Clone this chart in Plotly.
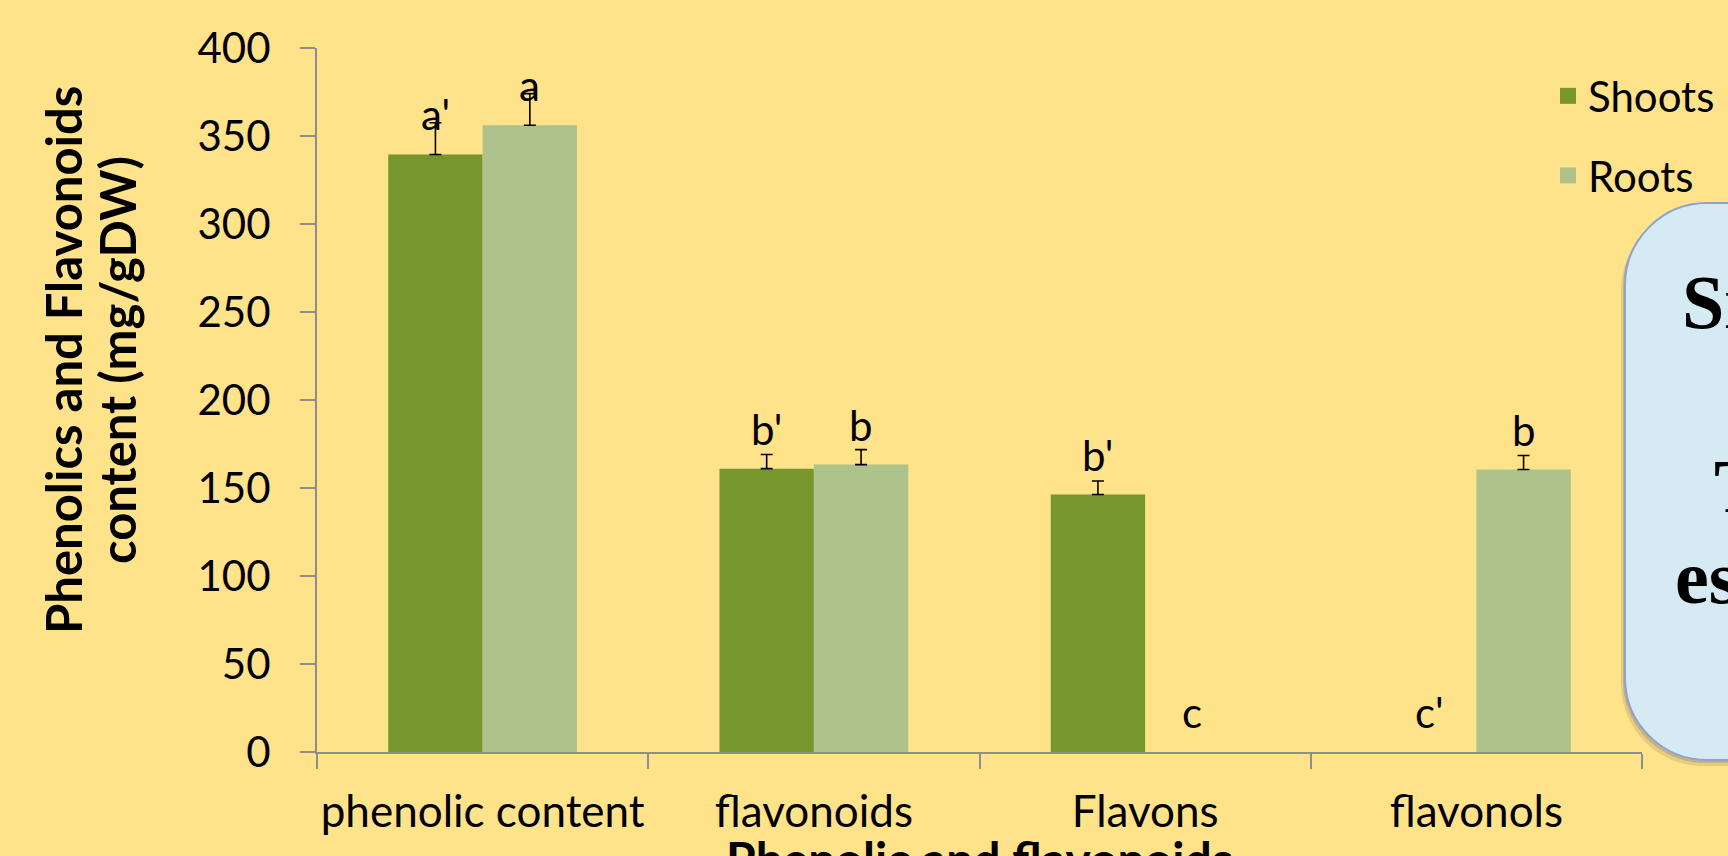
import plotly.graph_objects as go

# ---------------- data ----------------
categories = ["phenolic content", "flavonoids", "Flavons", "flavonols"]
series_names = ["Shoots", "Roots"]
shoots_values = [339.5, 161.0, 146.3, 0]
roots_values = [356.1, 163.3, 0, 160.5]
shoots_errors = [18, 8, 7.7, None]
roots_errors = [18, 8.5, None, 8]
shoots_letters = ["a'", "b'", "b'", "c'"]
roots_letters = ["a", "b", "c", "b"]
y_tick_values = [0, 50, 100, 150, 200, 250, 300, 350, 400]
y_title_lines = ["Phenolics and Flavonoids", "content (mg/gDW)"]
x_title = "Phenolic and flavonoids"
box_lines = ["Si", "T", "es"]

# ---------------- styles ----------------
W, H = 1728, 856
ML, MR, MT, MB = 317, 86, 48, 104
PW, PH = W - ML - MR, H - MT - MB
BG = "#FFE38B"
COLORS = ["#77962E", "#ADC38B"]
AXIS = "#8E8E8E"
FONT = "Lato"
BARGAP = 0.43


def px_x(x):
    return (x - ML) / PW


def px_y(y):
    return (H - MB - y) / PH


fig = go.Figure()
for name, vals, errs, col in [
    (series_names[0], shoots_values, shoots_errors, COLORS[0]),
    (series_names[1], roots_values, roots_errors, COLORS[1]),
]:
    # zero-height bars are drawn as gaps (no bar, no error cap)
    yv = [v if v else None for v in vals]
    fig.add_trace(go.Bar(
        name=name, x=categories, y=yv, marker=dict(color=col, line=dict(width=0)),
        showlegend=False,
        error_y=dict(type="data", array=[e if e is not None else 0 for e in errs],
                     symmetric=False, arrayminus=[0] * len(errs),
                     color="black", thickness=1.6, width=6),
    ))

# legend entries (square swatches)
for name, col in zip(series_names, COLORS):
    fig.add_trace(go.Scatter(
        x=[None], y=[None], mode="markers", name=name, legendgroup=name,
        marker=dict(symbol="square", size=25, color=col), showlegend=True))

# significance letters above bars
half = (1 - BARGAP) / 4
annotations = []
for i in range(len(categories)):
    for off, vals, letters in [(-half, shoots_values, shoots_letters),
                               (half, roots_values, roots_letters)]:
        annotations.append(dict(
            x=i + off, y=vals[i], xref="x", yref="y", text=letters[i],
            showarrow=False, yanchor="bottom", xanchor="center", yshift=13,
            font=dict(family=FONT, size=42, color="black")))

# y-axis title (two rotated lines)
for line, lx in zip(y_title_lines, [63, 117]):
    annotations.append(dict(
        x=px_x(lx), y=px_y(360), xref="paper", yref="paper",
        text="<b>" + line + "</b>", textangle=-90,
        showarrow=False, xanchor="center", yanchor="middle",
        font=dict(family=FONT, size=49, color="black")))

# x-axis title (cut off at the bottom edge as in the slide)
annotations.append(dict(
    x=0.5, y=0, xref="paper", yref="paper", text="<b>" + x_title + "</b>",
    showarrow=False, xanchor="center", yanchor="top", yshift=-76,
    font=dict(family=FONT, size=48, color="black")))

# text inside the blue call-out box (cut off at the right edge)
box_text_pos = [(1680, 258), (1712, 442), (1673, 533)]
for t, (bx, by) in zip(box_lines, box_text_pos):
    annotations.append(dict(
        x=px_x(bx), y=px_y(by), xref="paper", yref="paper", text="<b>" + t + "</b>",
        showarrow=False, xanchor="left", yanchor="top",
        font=dict(family="Liberation Serif", size=76, color="black")))


def rounded_path(x0p, y0p, x1p, y1p, r):
    # pixel coords (y down) -> paper path with rounded left corners
    X0, X1 = px_x(x0p), px_x(x1p)
    YT, YB = px_y(y0p), px_y(y1p)
    rx, ry = r / PW, r / PH
    k = 0.45
    return (f"M{X0},{YT - ry} L{X0},{YB + ry} "
            f"C{X0},{YB + ry * k} {X0 + rx * k},{YB} {X0 + rx},{YB} "
            f"L{X1},{YB} L{X1},{YT} L{X0 + rx},{YT} "
            f"C{X0 + rx * k},{YT} {X0},{YT - ry * k} {X0},{YT - ry} Z")


shapes = [
    dict(type="path", xref="paper", yref="paper", layer="above",
         path=rounded_path(1621, 208, 1800, 766, 82),
         fillcolor="rgba(90,90,90,0.16)", line=dict(width=0)),
    dict(type="path", xref="paper", yref="paper", layer="above",
         path=rounded_path(1623, 205, 1800, 763, 82),
         fillcolor="rgba(90,90,90,0.22)", line=dict(width=0)),
    dict(type="path", xref="paper", yref="paper", layer="above",
         path=rounded_path(1625, 203, 1800, 760, 82),
         fillcolor="#D5EAF2", line=dict(color="#8FA1D3", width=2)),
]

fig.update_layout(
    width=W, height=H,
    margin=dict(l=ML, r=MR, t=MT, b=MB, autoexpand=False),
    paper_bgcolor=BG, plot_bgcolor=BG,
    barmode="group", bargap=BARGAP, bargroupgap=0,
    font=dict(family=FONT, size=42, color="black"),
    showlegend=True,
    legend=dict(x=px_x(1548), y=px_y(62), xanchor="left", yanchor="top",
                bgcolor="rgba(0,0,0,0)", font=dict(family=FONT, size=42, color="black"),
                tracegroupgap=22, traceorder="grouped", itemsizing="trace"),
    annotations=annotations,
    shapes=shapes,
    xaxis=dict(showline=True, linecolor=AXIS, linewidth=2, ticks="outside",
               tickson="boundaries", ticklen=15, tickwidth=2, tickcolor=AXIS,
               showgrid=False, zeroline=False, ticklabelstandoff=20, tickangle=0,
               tickfont=dict(family=FONT, size=44, color="black")),
    yaxis=dict(range=[0, 400], tickvals=y_tick_values, showline=True, linecolor=AXIS,
               linewidth=2, ticks="outside", ticklen=15, tickwidth=2, tickcolor=AXIS,
               showgrid=False, zeroline=False, ticklabelstandoff=21,
               tickfont=dict(family=FONT, size=42, color="black")),
)

fig.write_html("out.html", config={"displayModeBar": False},
               post_script="document.body.style.margin='0';document.body.style.overflow='hidden';")
